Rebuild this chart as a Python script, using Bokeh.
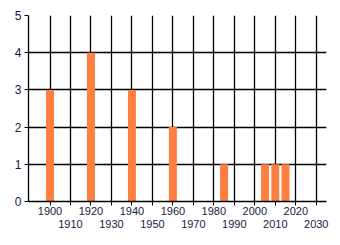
from bokeh.plotting import figure
from bokeh.models import Range1d, FixedTicker, LinearAxis
from bokeh.embed import file_html
from bokeh.resources import INLINE

years = [1900, 1920, 1940, 1960, 1985, 2005, 2010, 2015]
counts = [3, 4, 3, 2, 1, 1, 1, 1]
decades = list(range(1900, 2031, 10))
row1_labels = {d: (str(d) if (d // 10) % 2 == 0 else "") for d in decades}
row2_ticks = [d for d in decades if (d // 10) % 2 == 1]
y_ticks = [0, 1, 2, 3, 4, 5]

label_color = "#1a1a40"
font = "Liberation Sans"

p = figure(width=340, height=245, output_backend="svg", toolbar_location=None,
           x_range=Range1d(1889.5, 2035), y_range=Range1d(0, 5),
           x_axis_location=None,
           min_border_left=28, min_border_right=14, min_border_top=15, min_border_bottom=44)
p.outline_line_color = None
p.background_fill_color = "white"

p.vbar(x=years, top=counts, width=3.9, bottom=0, fill_color="#ff7f40", line_color=None)

ax1 = LinearAxis(ticker=FixedTicker(ticks=decades), major_label_overrides=row1_labels)
ax2 = LinearAxis(ticker=FixedTicker(ticks=row2_ticks))
for ax in (ax1, ax2):
    ax.major_label_text_font = font
    ax.major_label_text_font_size = "11px"
    ax.major_label_text_color = label_color
    ax.minor_tick_line_color = None
ax1.axis_line_color = "black"
ax1.axis_line_width = 1.3
ax1.major_tick_line_color = "black"
ax1.major_tick_out = 4
ax1.major_tick_in = 0
ax1.major_label_standoff = 1
ax2.axis_line_color = None
ax2.major_tick_line_color = None
ax2.major_tick_out = 0
ax2.major_tick_in = 0
ax2.major_label_standoff = 2
p.add_layout(ax1, "below")
p.add_layout(ax2, "below")

p.yaxis.ticker = FixedTicker(ticks=y_ticks)
p.yaxis.minor_tick_line_color = None
p.yaxis.major_tick_in = 0
p.yaxis.major_tick_out = 4
p.yaxis.major_tick_line_color = "black"
p.yaxis.axis_line_color = "black"
p.yaxis.axis_line_width = 1.3
p.yaxis.major_label_text_font = font
p.yaxis.major_label_text_font_size = "12px"
p.yaxis.major_label_text_color = label_color
p.yaxis.major_label_standoff = 3

p.xgrid.ticker = FixedTicker(ticks=decades)
p.xgrid.grid_line_color = "black"
p.xgrid.grid_line_width = 1.3
p.ygrid.grid_line_color = "black"
p.ygrid.grid_line_width = 1.3

open("out.html", "w").write(file_html(p, INLINE))
